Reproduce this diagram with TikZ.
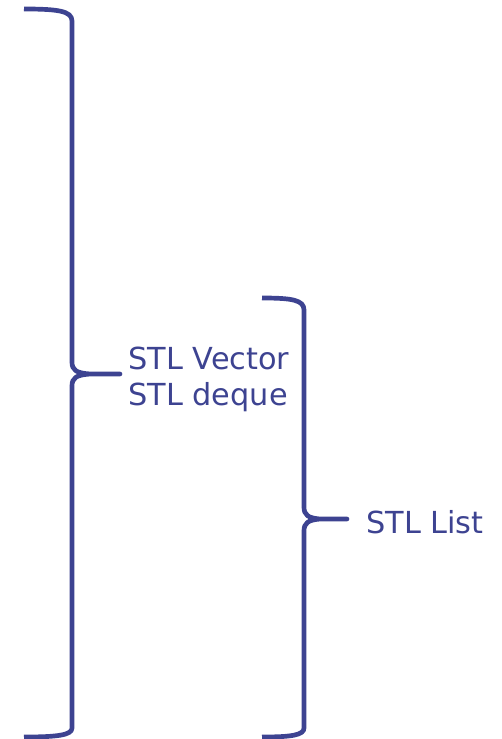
\documentclass[tikz,border=0pt]{standalone}
\usepackage{fontspec}
\setmainfont{DejaVu Sans}
\usepackage{tikz}
\usetikzlibrary{positioning}

\definecolor{braceBlue}{RGB}{61,67,145}

\begin{document}
\begin{tikzpicture}[x=0.03cm, y=-0.03cm]
            \tikzset{
                bracket/.style={
                    draw=braceBlue,
                    line width=4pt,
                    line join=round,
                    line cap=butt
                },
                label/.style={
                    text=braceBlue,
                    inner sep=0pt,
                    anchor=base west,
                    font=\fontsize{25.9}{30.9}\selectfont
                }
            }

            \useasboundingbox (0,0) rectangle (501,739);

            % --- LEFT BRACE: spans the whole height ---
            \coordinate (bigTip) at (120,374);
            \draw[bracket]
                (24,9) .. controls (58,9) and (72,11) .. (72,21)
                -- (72,362) .. controls (72,370) and (76,373) .. (90,374)
                -- (bigTip) -- (90,374)
                .. controls (76,375) and (72,378) .. (72,386)
                -- (72,728) .. controls (72,735) and (58,737) .. (24,737);

            % --- RIGHT BRACE: lower part only ---
            \coordinate (smallTip) at (347,519);
            \draw[bracket]
                (262,298) .. controls (292,298) and (304,300) .. (304,310)
                -- (304,507) .. controls (304,515) and (308,518) .. (320,519)
                -- (smallTip) -- (320,519)
                .. controls (308,520) and (304,523) .. (304,531)
                -- (304,728) .. controls (304,735) and (292,737) .. (262,737);

            % Labels
            \node[label] (vec) at (128,369) {STL Vector};
            \node[label] (deq) at (128,405) {STL deque};
            \node[label] (lst) at (366,533) {STL List};
        \end{tikzpicture}
\end{document}
